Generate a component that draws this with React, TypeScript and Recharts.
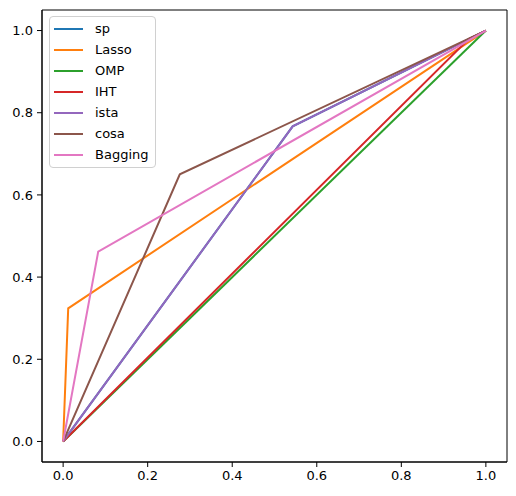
import { LineChart, Line, XAxis, YAxis, ReferenceArea } from 'recharts'

// false positive rate / true positive rate per model
const spFpr = [0, 0.543, 1]
const spTpr = [0, 0.767, 1]
const lassoFpr = [0, 0.012, 1]
const lassoTpr = [0, 0.324, 1]
const ompFpr = [0, 1]
const ompTpr = [0, 1]
const ihtFpr = [0, 0.96, 1]
const ihtTpr = [0, 0.98, 1]
const istaFpr = [0, 0.543, 1]
const istaTpr = [0, 0.767, 1]
const cosaFpr = [0, 0.276, 1]
const cosaTpr = [0, 0.65, 1]
const bagFpr = [0, 0.083, 1]
const bagTpr = [0, 0.462, 1]

const ticks = [0, 0.2, 0.4, 0.6, 0.8, 1.0]

const series = [
  { name: 'sp', color: '#1f77b4', x: spFpr, y: spTpr },
  { name: 'Lasso', color: '#ff7f0e', x: lassoFpr, y: lassoTpr },
  { name: 'OMP', color: '#2ca02c', x: ompFpr, y: ompTpr },
  { name: 'IHT', color: '#d62728', x: ihtFpr, y: ihtTpr },
  { name: 'ista', color: '#9467bd', x: istaFpr, y: istaTpr },
  { name: 'cosa', color: '#8c564b', x: cosaFpr, y: cosaTpr },
  { name: 'Bagging', color: '#e377c2', x: bagFpr, y: bagTpr },
]

const FONT = '"DejaVu Sans", sans-serif'
const tickStyle = { fontSize: 13, fill: '#000', fontFamily: FONT }

function LegendBox() {
  return (
    <div
      style={{
        position: 'absolute',
        left: 49,
        top: 16,
        border: '1px solid #d0d0d0',
        borderRadius: 4,
        background: 'rgba(255,255,255,0.8)',
        padding: '1px 6px 2px 4px',
        fontFamily: FONT,
        fontSize: 13,
        color: '#000',
      }}
    >
      {series.map((s) => (
        <div key={s.name} style={{ display: 'flex', alignItems: 'center', height: 21 }}>
          <div style={{ width: 29, height: 2, background: s.color, marginRight: 12 }} />
          <span>{s.name}</span>
        </div>
      ))}
    </div>
  )
}

export default function App() {
  return (
    <div style={{ position: 'absolute', left: 0, top: 0, width: 516, height: 496, background: '#fff' }}>
      <LineChart width={516} height={496} margin={{ top: 10, right: 9, bottom: 0, left: 0 }}>
        <XAxis
          type="number"
          dataKey="x"
          domain={[-0.05, 1.05]}
          ticks={ticks}
          tickFormatter={(v: number) => v.toFixed(1)}
          tick={tickStyle}
          tickSize={5}
          tickMargin={4}
          height={34}
          stroke="#000"
          allowDataOverflow
        />
        <YAxis
          type="number"
          dataKey="y"
          domain={[-0.05, 1.05]}
          ticks={ticks}
          tickFormatter={(v: number) => v.toFixed(1)}
          tick={tickStyle}
          tickSize={5}
          tickMargin={4}
          width={42}
          stroke="#000"
          allowDataOverflow
        />
        <ReferenceArea x1={-0.05} x2={1.05} y1={-0.05} y2={1.05} fill="none" stroke="#000" strokeWidth={1} />
        {series.map((s) => (
          <Line
            key={s.name}
            name={s.name}
            data={s.x.map((x, i) => ({ x, y: s.y[i] }))}
            dataKey="y"
            stroke={s.color}
            strokeWidth={2}
            dot={false}
            activeDot={false}
            isAnimationActive={false}
          />
        ))}
      </LineChart>
      <LegendBox />
    </div>
  )
}
